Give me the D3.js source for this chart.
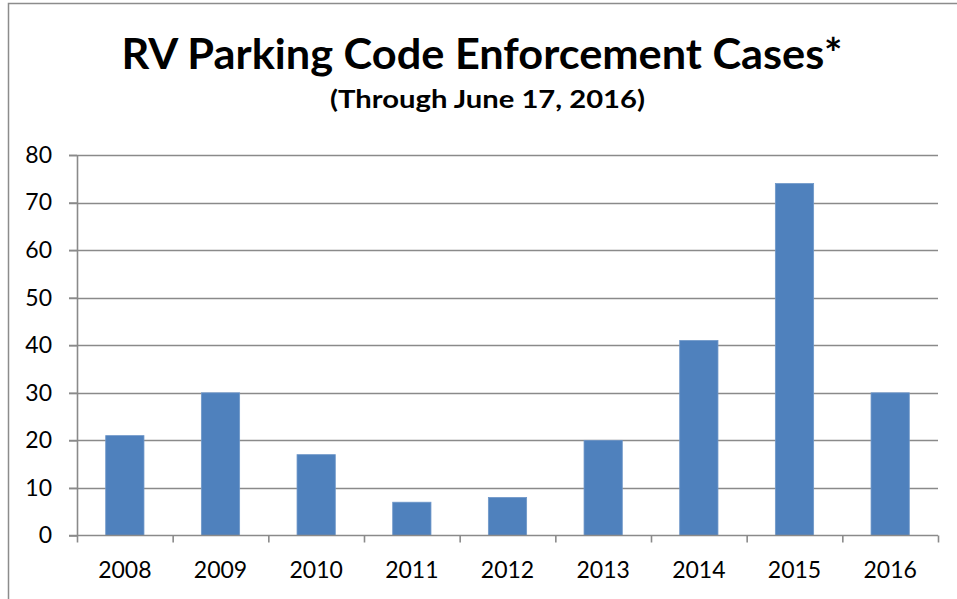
<!DOCTYPE html>
<html>
<head>
<meta charset="utf-8">
<script src="https://cdn.jsdelivr.net/npm/d3@7"></script>
<style>
  html, body { margin: 0; padding: 0; background: #fff; }
  svg { display: block; }
</style>
</head>
<body>
<svg id="chart" width="957" height="599"></svg>
<script>
const categories = ["2008", "2009", "2010", "2011", "2012", "2013", "2014", "2015", "2016"];
const values = [21, 30, 17, 7, 8, 20, 41, 74, 30];
const yTicks = [0, 10, 20, 30, 40, 50, 60, 70, 80];
const titleText = "RV Parking Code Enforcement Cases*";
const subtitleText = "(Through June 17, 2016)";

const svg = d3.select("#chart");
const font = "Lato, 'Open Sans', sans-serif";

// outer frame
svg.append("rect")
  .attr("x", 8.5).attr("y", 3.5)
  .attr("width", 1000).attr("height", 1000)
  .attr("fill", "none").attr("stroke", "#8c8c8c").attr("stroke-width", 1.5);

const pLeft = 77, pRight = 938, pTop = 155, pBottom = 535.5;

const x = d3.scaleBand().domain(categories).range([pLeft, pRight]).padding(0);
const y = d3.scaleLinear().domain([0, 80]).range([pBottom, pTop]);

// gridlines
svg.append("g").selectAll("line")
  .data(yTicks.filter(d => d > 0))
  .join("line")
  .attr("x1", pLeft - 8).attr("x2", pRight)
  .attr("y1", d => Math.round(y(d)) + 0.5).attr("y2", d => Math.round(y(d)) + 0.5)
  .attr("stroke", "#8a8a8a").attr("stroke-width", 1.6);

// bars
const bw = x.bandwidth() * 0.4;
svg.append("g").selectAll("rect")
  .data(values)
  .join("rect")
  .attr("x", (d, i) => x(categories[i]) + x.bandwidth() / 2 - bw / 2)
  .attr("y", d => y(d))
  .attr("width", bw)
  .attr("height", d => y(0) - y(d))
  .attr("fill", "#4f81bd")
  .attr("stroke", "#6f97c9").attr("stroke-width", 0.8);

// y axis
const yAxis = d3.axisLeft(y).tickValues(yTicks).tickSize(8).tickPadding(17)
  .tickFormat(d3.format("d"));
const gy = svg.append("g").attr("transform", `translate(${pLeft},0)`).call(yAxis);
gy.select(".domain").attr("stroke", "#8a8a8a").attr("stroke-width", 1.6).attr("d", `M0.5,${pTop}V${pBottom}`);
gy.selectAll(".tick line").attr("stroke", "#8a8a8a").attr("stroke-width", 1.6);
gy.selectAll(".tick text").attr("font-family", font).attr("font-size", 23).attr("fill", "#000");

// x axis
const xAxisG = svg.append("g").attr("transform", `translate(0,${pBottom})`);
xAxisG.append("line")
  .attr("x1", pLeft - 8).attr("x2", pRight)
  .attr("y1", 0).attr("y2", 0)
  .attr("stroke", "#8a8a8a").attr("stroke-width", 1.6);
const boundaries = categories.map(c => x(c)).concat([pRight]);
xAxisG.selectAll("line.tk")
  .data(boundaries)
  .join("line").attr("class", "tk")
  .attr("x1", d => d + 0.5).attr("x2", d => d + 0.5)
  .attr("y1", 0).attr("y2", 7)
  .attr("stroke", "#8a8a8a").attr("stroke-width", 1.6);
xAxisG.selectAll("text")
  .data(categories)
  .join("text")
  .attr("x", d => x(d) + x.bandwidth() / 2)
  .attr("y", 42)
  .attr("text-anchor", "middle")
  .attr("font-family", font).attr("font-size", 23).attr("fill", "#000")
  .text(d => d);

// titles
svg.append("text")
  .attr("x", 482).attr("y", 69)
  .attr("text-anchor", "middle")
  .attr("font-family", font).attr("font-weight", "bold").attr("font-size", 42)
  .attr("textLength", 721).attr("lengthAdjust", "spacingAndGlyphs")
  .attr("fill", "#000")
  .text(titleText);
svg.append("text")
  .attr("x", 487.5).attr("y", 108)
  .attr("text-anchor", "middle")
  .attr("font-family", font).attr("font-weight", "bold").attr("font-size", 24)
  .attr("textLength", 315).attr("lengthAdjust", "spacingAndGlyphs")
  .attr("fill", "#000")
  .text(subtitleText);
</script>
</body>
</html>
